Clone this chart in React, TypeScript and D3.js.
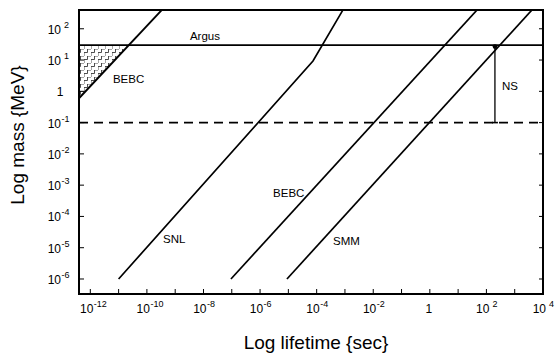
import React from "react";
import * as d3 from "d3";

const W = 557;
const H = 357;

// axis domains (frame edges)
const lifetimeDomain = [Math.pow(10, -12.4), 1e4];
const massDomain = [Math.pow(10, -6.48), Math.pow(10, 2.6)];

const xTickExps = [-12, -10, -8, -6, -4, -2, 0, 2, 4];
const xMinorExps = [-12, -11, -10, -9, -8, -7, -6, -5, -4, -3, -2, -1, 0, 1, 2, 3];
const yTickExps = [-6, -5, -4, -3, -2, -1, 0, 1, 2];

// curves: [lifetime (s), mass (MeV)]
const bebcSmall: [number, number][] = [
  [Math.pow(10, -12.4), 0.6],
  [Math.pow(10, -9.47), 400],
];
const snl: [number, number][] = [
  [1e-11, 1e-6],
  [Math.pow(10, -4.13), 9.3],
  [Math.pow(10, -3.07), 400],
];
const bebc: [number, number][] = [
  [Math.pow(10, -7.03), 1e-6],
  [Math.pow(10, 1.67), 400],
];
const smm: [number, number][] = [
  [Math.pow(10, -5.05), 1e-6],
  [Math.pow(10, 3.61), 400],
];
const argusMass = 30;
const dashedMass = 0.1;
const nsLifetime = 200;
const hatch: [number, number][] = [
  [Math.pow(10, -12.4), 30],
  [Math.pow(10, -12.4), 0.6],
  [Math.pow(10, -10.63), 30],
];

const labels = [
  { text: "Argus", t: Math.pow(10, -8.48), m: 43 },
  { text: "BEBC", t: Math.pow(10, -11.2), m: 1.85 },
  { text: "NS", t: Math.pow(10, 2.55), m: 1.1 },
  { text: "SNL", t: Math.pow(10, -9.43), m: 1.4e-5 },
  { text: "BEBC", t: Math.pow(10, -5.54), m: 4.2e-4 },
  { text: "SMM", t: Math.pow(10, -3.42), m: 1.23e-5 },
];

const left = 79, right = 543, top = 10, bottom = 294;

export default function App() {
  const x = d3.scaleLog().domain(lifetimeDomain).range([left, right]);
  const y = d3.scaleLog().domain(massDomain).range([bottom, top]);
  const line = d3
    .line<[number, number]>()
    .x((d) => x(d[0]))
    .y((d) => y(d[1]));

  const font = "Arial, 'Liberation Sans', Helvetica, sans-serif";
  const expStr = (e: number) => (e < 0 ? "-" + Math.abs(e) : String(e));

  return (
    <svg
      width={W}
      height={H}
      style={{ position: "absolute", left: 0, top: 0, background: "#fff" }}
      fontFamily={font}
    >
      <defs>
        <pattern id="stairs" width={7} height={7} patternUnits="userSpaceOnUse">
          <path d="M0 7 V3.5 H3.5 V0 H7" fill="none" stroke="#222" strokeWidth={0.8} />
        </pattern>
        <clipPath id="plot">
          <rect x={left} y={top} width={right - left} height={bottom - top} />
        </clipPath>
      </defs>

      <g clipPath="url(#plot)">
        <path d={line(hatch) + "Z"} fill="url(#stairs)" stroke="none" />
        <path d={line(bebcSmall) || ""} fill="none" stroke="#000" strokeWidth={1.9} />
        <path d={line(snl) || ""} fill="none" stroke="#000" strokeWidth={1.7} />
        <path d={line(bebc) || ""} fill="none" stroke="#000" strokeWidth={1.7} />
        <path d={line(smm) || ""} fill="none" stroke="#000" strokeWidth={1.7} />
        <line x1={left} x2={right} y1={y(argusMass)} y2={y(argusMass)} stroke="#000" strokeWidth={1.8} />
        <line
          x1={left}
          x2={right}
          y1={y(dashedMass)}
          y2={y(dashedMass)}
          stroke="#000"
          strokeWidth={1.8}
          strokeDasharray="9 6"
        />
        <line x1={x(nsLifetime)} x2={x(nsLifetime)} y1={y(argusMass)} y2={y(dashedMass)} stroke="#000" strokeWidth={1.3} />
        <line x1={x(nsLifetime) - 3} x2={x(nsLifetime) + 3} y1={y(dashedMass)} y2={y(dashedMass)} stroke="#000" strokeWidth={1.6} />
        <circle cx={x(nsLifetime)} cy={y(argusMass) + 1.5} r={2.3} fill="#000" />
      </g>

      {/* ticks */}
      {xMinorExps.map((e) => (
        <line key={"xt" + e} x1={x(Math.pow(10, e))} x2={x(Math.pow(10, e))} y1={bottom} y2={bottom - 5} stroke="#000" strokeWidth={1} />
      ))}
      {yTickExps.map((e) => (
        <g key={"yt" + e}>
          <line x1={left} x2={left + 5} y1={y(Math.pow(10, e))} y2={y(Math.pow(10, e))} stroke="#000" strokeWidth={1} />
          <line x1={right} x2={right - 4} y1={y(Math.pow(10, e))} y2={y(Math.pow(10, e))} stroke="#000" strokeWidth={1} />
        </g>
      ))}

      {/* frame */}
      <rect x={left} y={top} width={right - left} height={bottom - top} fill="none" stroke="#000" strokeWidth={2} />

      {/* x tick labels */}
      {xTickExps.map((e) => {
        const tx = x(Math.pow(10, e));
        if (e === 0)
          return (
            <text key={"xl" + e} x={tx - 1} y={313} fontSize={12} textAnchor="middle">
              1
            </text>
          );
        return (
          <g key={"xl" + e}>
            <text x={tx + 3} y={313} fontSize={12} textAnchor="end">
              10
            </text>
            <text x={tx + (e > 0 ? 6 : 3.5)} y={307} fontSize={9}>
              {expStr(e)}
            </text>
          </g>
        );
      })}

      {/* y tick labels */}
      {yTickExps.map((e) => {
        const ty = y(Math.pow(10, e));
        if (e === 0)
          return (
            <text key={"yl" + e} x={60} y={ty + 5} fontSize={12} textAnchor="middle">
              1
            </text>
          );
        return (
          <g key={"yl" + e}>
            <text x={61} y={ty + 5} fontSize={12} textAnchor="end">
              10
            </text>
            <text x={e > 0 ? 64 : 61.5} y={ty - 1} fontSize={9}>
              {expStr(e)}
            </text>
          </g>
        );
      })}

      {/* in-plot labels */}
      {labels.map((l, i) => (
        <text key={"l" + i} x={x(l.t)} y={y(l.m)} fontSize={11.5}>
          {l.text}
        </text>
      ))}

      {/* axis titles */}
      <text x={316} y={349} fontSize={19} textAnchor="middle">
        Log lifetime {"{sec}"}
      </text>
      <text transform="translate(24,135) rotate(-90)" fontSize={19} textAnchor="middle">
        Log mass {"{MeV}"}
      </text>
    </svg>
  );
}
